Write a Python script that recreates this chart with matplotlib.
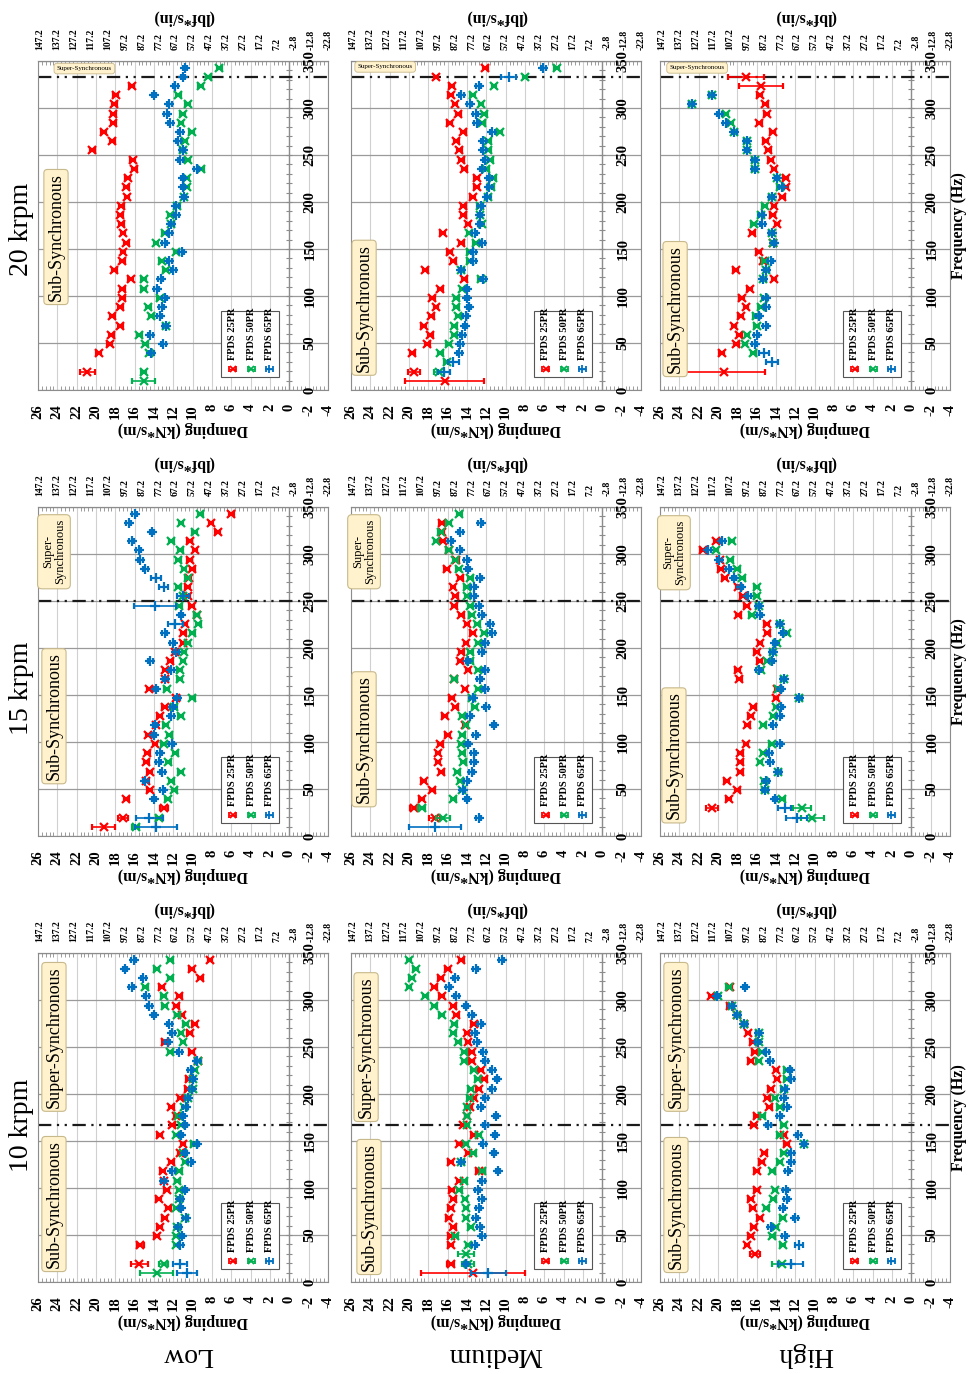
import matplotlib.pyplot as plt
from matplotlib.patches import FancyBboxPatch
from matplotlib.ticker import MultipleLocator

plt.rcParams["font.family"] = ["Liberation Serif", "DejaVu Serif"]

N = None

# FFT bin frequencies (Hz) shared by every series
FREQ = [9.8, 19.6, 29.4, 39.2, 49.0, 58.8, 68.6, 78.4, 88.2, 98.0,
        107.8, 117.6, 127.4, 137.2, 147.0, 156.8, 166.6, 176.4, 186.2, 196.0,
        205.8, 215.6, 225.4, 235.2, 245.0, 254.8, 264.6, 274.4, 284.2, 294.0,
        303.8, 313.6, 323.4, 333.2, 343.0]

# ---- 10 krpm ----
LOW_10_25 = [N, 15.5, N, 15.4, 13.7, 13.4, 12.9, 12.5, 13.5, 12.7,
             13.0, 13.1, 12.2, 11.3, 11.0, 13.4, 12.1, 11.7, 12.2, 11.3,
             10.5, 10.4, N, 9.4, 10.1, 12.9, 10.3, 9.8, 11.1, 11.7,
             11.4, 13.2, 9.2, 10.1, 8.2]
LOW_10_50 = [13.7, 13.0, N, 11.7, 11.7, 11.6, 10.8, 11.7, 11.4, 11.4,
             11.6, 11.4, 10.8, 11.0, 9.9, 11.7, 11.2, 11.5, 10.9, 10.5,
             10.0, 10.0, 9.8, 9.4, 12.3, 11.0, 11.2, 10.7, 11.6, 12.9,
             13.0, 14.9, 12.3, 13.7, 12.3]
LOW_10_65 = [10.6, 11.3, N, 11.3, 11.1, 11.5, 10.7, 11.2, 11.3, 10.8,
             13.0, 12.1, 10.2, 10.8, 9.6, 11.2, 10.8, 11.0, 10.7, 10.5,
             10.1, 10.0, 10.2, 9.5, 11.4, 12.6, 12.1, 12.4, 14.0, 14.5,
             14.8, 16.3, 15.1, 17.0, 16.1]

MED_10_25 = [13.35, 15.7, N, 15.7, 15.7, 15.4, 15.9, 15.7, 15.4, 15.6,
             14.8, 12.8, 15.7, 13.9, 14.8, 13.3, 14.4, 14.0, 13.7, 13.3,
             12.8, 12.2, 12.6, 13.5, 13.5, 13.9, 14.0, 13.3, 15.1, 15.4,
             16.6, 17.4, 16.7, 16.0, 14.6]
MED_10_50 = [N, 13.9, 14.1, 13.9, 15.2, 13.6, 14.1, 14.1, 14.2, 14.8,
             14.3, 12.4, 14.6, 13.35, 14.1, 12.8, 14.0, 14.0, 14.0, 13.7,
             13.6, 12.9, 13.3, 14.3, 14.3, 14.9, 15.4, 15.3, 16.6, 17.4,
             18.3, 20.0, 19.7, 19.3, 20.0]
MED_10_65 = [11.8, 14.1, N, 13.2, 12.4, 12.7, 13.1, 12.8, 12.5, 12.9,
             12.4, 10.8, 14.6, 11.2, 12.3, 11.1, 12.1, 11.0, 12.6, 12.1,
             11.4, 10.9, 11.4, 12.1, 12.3, 13.0, 13.2, 12.6, 13.5, 14.1,
             15.1, 15.9, 15.2, 13.1, 10.4]

HIGH_10_25 = [N, N, 16.2, 17.0, 16.6, 16.3, 15.7, 16.4, 16.6, 16.0,
              N, 16.0, 15.5, 15.2, 12.9, 13.2, 16.3, 16.0, 14.7, 14.9,
              14.55, 13.9, 14.0, 16.6, 16.2, 16.4, 16.9, 17.3, 18.0, 18.8,
              20.7, 18.8, N, N, N]
HIGH_10_50 = [N, 13.4, N, 13.3, 14.4, 14.0, 13.3, 15.0, 14.3, 14.1,
              N, 14.4, 13.6, 13.2, 11.1, 13.6, 13.2, 15.4, 13.6, 14.1,
              13.2, 12.9, 12.9, 15.8, 15.5, 15.8, 15.8, 17.3, 18.0, 18.6,
              20.0, 18.9, N, N, N]
HIGH_10_65 = [N, 12.5, N, 11.6, 13.1, 14.55, 12.0, 13.3, 12.9, 13.0,
              N, 12.8, 12.4, 12.4, 11.1, 11.7, 14.8, 13.6, 12.9, 13.2,
              13.1, 12.4, 12.55, 14.6, 15.0, 15.9, 15.8, 17.3, 18.0, 18.6,
              20.1, 17.2, N, N, N]

# ---- 15 krpm ----
LOW_15_25 = [19.2, 17.2, 13.0, 16.85, 14.45, 14.8, 14.45, 14.8, 14.7, 13.9,
             14.6, 13.8, 13.4, 12.9, 11.7, 14.5, 12.85, 12.85, 12.3, 11.8,
             11.0, 10.95, 10.8, 9.6, 10.1, 10.5, 10.5, 10.4, 10.05, 10.3,
             9.75, 10.3, 7.4, 8.1, 6.0]
LOW_15_50 = [15.9, 13.5, N, 12.6, 11.9, 12.2, 11.25, 12.5, 11.8, 13.0,
             12.4, 12.8, 11.25, 11.9, 10.05, 12.7, 11.35, 11.35, 11.0, 10.9,
             10.5, 10.05, 9.4, 9.6, 11.4, 11.0, 11.5, 10.5, 10.9, 11.5,
             11.3, 12.2, 9.8, 11.2, 9.2]
LOW_15_65 = [13.8, 14.5, N, 14.0, 13.1, 14.9, 13.15, 13.5, 13.4, 12.15,
             14.0, 13.9, 12.2, 12.05, 11.6, 13.8, 12.85, 12.2, 14.4, 11.7,
             12.05, 12.9, 11.8, 11.2, 13.9, 11.0, 13.0, 13.8, 14.9, 15.4,
             15.6, 16.3, 14.2, 16.6, 16.0]

MED_15_25 = [N, 17.35, 19.5, 18.7, 17.6, 18.5, 16.65, 17.0, 17.0, 16.75,
             16.0, 14.2, 16.3, 15.2, 15.6, 14.2, 15.3, 13.9, 14.7, 14.6,
             14.1, 13.4, 14.0, 14.6, 15.3, 15.2, 15.45, 14.7, 16.1, 15.1,
             15.9, 16.5, 16.6, 16.6, N]
MED_15_50 = [N, 16.5, 18.7, 15.4, 14.5, 14.7, 15.0, 14.4, 14.5, 14.6,
             14.5, 14.1, 14.5, 13.2, 13.5, 12.85, 15.3, 12.85, 13.65, 13.65,
             12.85, 12.2, 12.95, 13.5, 13.65, 14.0, 14.05, 13.65, 14.85, 15.2,
             15.9, 17.2, 16.7, 15.9, 14.8]
MED_15_65 = [17.35, 12.8, N, 14.0, 14.45, 14.05, 13.5, 13.3, 13.3, 13.9,
             13.1, 11.2, 13.7, 12.0, 13.4, 12.1, 12.7, 12.1, 13.9, 12.5,
             12.1, 11.4, 11.6, 12.5, 12.8, 13.3, 13.3, 12.7, 13.9, 14.05,
             14.75, 15.7, 14.7, 12.6, N]

HIGH_15_25 = [N, N, 20.6, 18.9, 18.0, 19.1, 17.7, 17.7, 17.7, 17.1,
              N, 16.95, 16.6, 16.35, 14.0, 13.9, 17.8, 17.95, 15.7, 16.0,
              15.65, 14.9, 14.95, 17.9, 17.05, 17.45, 17.9, 19.3, 19.7, 19.8,
              21.6, 20.2, N, N, N]
HIGH_15_50 = [N, 10.25, 11.3, 13.35, 15.15, 15.2, 13.75, 15.65, 15.3, 14.45,
              N, 15.3, 14.3, 14.0, 11.6, 13.8, 13.2, 15.55, 14.9, 14.35,
              13.9, 12.9, 13.6, 16.5, 15.8, 16.0, 16.0, 17.5, 18.0, 18.75,
              20.2, 18.6, N, N, N]
HIGH_15_65 = [N, 11.85, 13.1, 14.1, 15.1, 15.0, 13.75, 14.6, 14.7, 13.6,
              N, 14.3, 13.6, 13.5, 11.6, 13.5, 13.2, 15.8, 14.45, 14.35,
              14.1, 13.25, 13.6, 15.7, 15.8, 16.85, 17.65, 18.35, 18.9, 19.85,
              21.0, 19.55, N, N, N]

# ---- 20 krpm ----
LOW_20_25 = [N, 20.9, N, 19.7, 18.6, 18.4, 17.5, 18.3, 17.5, 17.3,
             17.3, 16.4, 18.1, 17.3, 17.2, 16.85, 17.2, 17.4, 17.5, 17.4,
             16.8, 16.85, 16.7, 16.05, 16.2, 20.4, 18.3, 19.2, 18.2, 18.2,
             18.1, 17.95, 16.3, N, N]
LOW_20_50 = [15.05, 15.05, N, 14.5, 14.9, 15.5, 12.8, 14.3, 14.6, 13.4,
             15.05, 15.05, 12.8, 13.2, 11.7, 13.8, 12.9, 12.2, 12.3, 11.6,
             10.9, 10.6, 10.6, 9.1, 10.5, 11.05, 10.8, 10.1, 11.2, 11.05,
             10.5, 11.5, 9.15, 8.4, 7.25]
LOW_20_65 = [N, N, N, 14.3, 13.05, 14.4, 12.8, 13.4, 13.2, 12.9,
             13.7, 13.3, 12.0, 12.4, 11.15, 12.9, 12.4, 12.2, 11.7, 11.7,
             10.9, 11.0, 11.0, 9.6, 11.3, 11.05, 11.5, 11.3, 12.3, 12.7,
             12.4, 14.0, 11.8, 11.0, 10.8]

MED_20_25 = [16.3, 19.5, N, 19.65, 18.1, 17.8, 18.5, 17.7, 17.2, 17.6,
             16.75, 14.3, 18.3, 15.4, 15.8, 14.6, 16.5, 13.9, 14.4, 14.4,
             13.4, 13.0, 13.0, 14.3, 14.6, 14.8, 15.1, 14.4, 15.8, 14.9,
             15.25, 15.7, 15.6, 17.2, 12.1]
MED_20_50 = [N, 16.9, 16.1, 16.75, 15.9, 15.3, 15.3, 14.9, 15.1, 15.1,
             14.5, 12.6, 14.6, 13.7, 13.7, 13.1, 13.8, 12.5, 12.65, 12.7,
             11.8, 11.5, 11.3, 12.0, 11.6, 11.8, 11.8, 10.6, 12.4, 12.2,
             12.55, 13.4, 11.2, 8.0, 4.7]
MED_20_65 = [N, 16.4, 15.4, 14.8, 14.7, 14.5, 14.2, 14.15, 13.8, 14.0,
             14.0, 12.3, 14.6, 13.35, 13.35, 12.4, 13.2, 12.65, 12.65, 12.6,
             11.9, 11.7, 11.7, 12.4, 12.1, 12.3, 12.3, 11.4, 13.0, 13.1,
             13.7, 14.6, 12.8, 9.7, 6.1]

HIGH_20_25 = [N, 19.4, N, 19.6, 18.1, 17.8, 18.35, 17.65, 17.1, 17.55,
              16.7, 14.2, 18.15, 15.3, 15.8, 14.3, 16.45, 13.9, 14.35, 14.2,
              13.35, 13.0, 13.0, 14.2, 14.55, 14.8, 15.05, 14.35, 15.75, 14.95,
              15.1, 15.7, 15.55, 17.1, N]
HIGH_20_50 = [N, N, N, 16.35, 17.2, 17.0, 16.0, 16.1, 15.6, 15.2,
              N, 15.3, 15.0, 15.15, N, 14.3, 14.45, 16.3, 15.6, 15.15,
              14.45, 13.6, 13.9, 16.2, 16.2, 17.0, 17.05, 18.3, 18.7, 19.2,
              22.7, 20.65, N, N, N]
HIGH_20_65 = [N, N, 14.4, 15.25, 16.2, 16.0, 15.05, 15.8, 15.0, 15.05,
              N, 15.3, 15.0, 14.55, N, 14.2, 14.45, 15.4, 15.5, N,
              14.45, 13.4, 13.9, 16.2, 16.2, 17.0, 17.05, 18.3, 19.2, 19.85,
              22.7, 20.65, N, N, N]

PANEL_SERIES = {
    ("Low", "10 krpm"): (LOW_10_25, LOW_10_50, LOW_10_65),
    ("Medium", "10 krpm"): (MED_10_25, MED_10_50, MED_10_65),
    ("High", "10 krpm"): (HIGH_10_25, HIGH_10_50, HIGH_10_65),
    ("Low", "15 krpm"): (LOW_15_25, LOW_15_50, LOW_15_65),
    ("Medium", "15 krpm"): (MED_15_25, MED_15_50, MED_15_65),
    ("High", "15 krpm"): (HIGH_15_25, HIGH_15_50, HIGH_15_65),
    ("Low", "20 krpm"): (LOW_20_25, LOW_20_50, LOW_20_65),
    ("Medium", "20 krpm"): (MED_20_25, MED_20_50, MED_20_65),
    ("High", "20 krpm"): (HIGH_20_25, HIGH_20_50, HIGH_20_65),
}

# error bar half-widths that are larger than the usual small one (bin number -> kN*s/m)
ERR_SMALL = 0.25
BIG_ERR = {
    ("Low", "10 krpm"): ({2: 0.9, 4: 0.4}, {1: 1.7, 2: 0.5}, {1: 1.0, 2: 0.7}),
    ("Medium", "10 krpm"): ({1: 5.4, 2: 0.4}, {2: 0.6, 3: 0.8}, {1: 1.8}),
    ("High", "10 krpm"): ({3: 0.5}, {2: 1.0}, {2: 1.3, 4: 0.4}),
    ("Low", "15 krpm"): ({1: 1.2, 2: 0.5, 3: 0.4}, {1: 0.4},
                         {1: 2.2, 2: 1.4, 23: 0.8, 25: 2.2, 26: 0.6, 27: 0.5, 28: 0.5}),
    ("Medium", "15 krpm"): ({2: 0.6, 3: 0.4}, {2: 0.7, 3: 0.4}, {1: 2.7}),
    ("High", "15 krpm"): ({3: 0.6}, {2: 1.2, 3: 0.9}, {2: 1.1, 3: 0.7}),
    ("Low", "20 krpm"): ({2: 0.8}, {1: 1.2}, {}),
    ("Medium", "20 krpm"): ({1: 4.1, 2: 0.6}, {2: 0.5}, {2: 0.6, 3: 0.6, 34: 0.8}),
    ("High", "20 krpm"): ({2: 4.3, 33: 2.3, 34: 1.9}, {}, {3: 0.6, 4: 0.5}),
}

LOADS = ["Low", "Medium", "High"]
SPEEDS = ["20 krpm", "15 krpm", "10 krpm"]
SYNC_FREQ = {"10 krpm": 166.7, "15 krpm": 250.0, "20 krpm": 333.3}
SERIES_NAMES = ["FPDS 25PR", "FPDS 50PR", "FPDS 65PR"]

DAMPING_TICKS = [26, 24, 22, 20, 18, 16, 14, 12, 10, 8, 6, 4, 2, 0, -2, -4]
FREQ_TICKS = [0, 50, 100, 150, 200, 250, 300, 350]
FREQ_MINOR = list(range(0, 351, 10))
LBF_TICKS = [147.2, 137.2, 127.2, 117.2, 107.2, 97.2, 87.2, 77.2, 67.2,
             57.2, 47.2, 37.2, 27.2, 17.2, 7.2, -2.8, -12.8, -22.8]
KN_PER_LBF = 0.175127

COLORS = ["#ff0000", "#00b050", "#0070c0"]
MARKERS = ["x", "x", "+"]
BOX_FACE = "#fff2cc"
BOX_EDGE = "#c8b98c"

# label box centres in axes fraction
SUB_POS = {
    ("Low", "10 krpm"): (0.055, 0.237), ("Medium", "10 krpm"): (0.062, 0.228),
    ("High", "10 krpm"): (0.055, 0.234), ("Low", "15 krpm"): (0.055, 0.364),
    ("Medium", "15 krpm"): (0.045, 0.294), ("High", "15 krpm"): (0.048, 0.245),
    ("Low", "20 krpm"): (0.062, 0.465), ("Medium", "20 krpm"): (0.045, 0.25),
    ("High", "20 krpm"): (0.052, 0.246),
}
SUPER_POS = {
    ("Low", "10 krpm"): (0.055, 0.745), ("Medium", "10 krpm"): (0.052, 0.714),
    ("High", "10 krpm"): (0.055, 0.745), ("Low", "15 krpm"): (0.055, 0.864),
    ("Medium", "15 krpm"): (0.045, 0.864), ("High", "15 krpm"): (0.048, 0.861),
    ("Low", "20 krpm"): (0.16, 0.977), ("Medium", "20 krpm"): (0.118, 0.982),
    ("High", "20 krpm"): (0.128, 0.979),
}

W, H = 969, 1374
PANEL_LEFT = {"Low": 38, "Medium": 351, "High": 660}
PANEL_TOP = {"20 krpm": 61, "15 krpm": 507, "10 krpm": 953}
PANEL_W, PANEL_H = 290, 329

fig = plt.figure(figsize=(W / 100, H / 100), dpi=100)
fig.patch.set_facecolor("white")

for speed in SPEEDS:
    for load in LOADS:
        left = PANEL_LEFT[load]
        top = PANEL_TOP[speed]
        ax = fig.add_axes([left / W, 1 - (top + PANEL_H) / H, PANEL_W / W, PANEL_H / H])
        ax.set_xlim(26, -4)
        ax.set_ylim(0, 350)
        ax.autoscale(False)

        ax.set_xticks(DAMPING_TICKS, labels=[str(t) for t in DAMPING_TICKS])
        ax.set_yticks(FREQ_TICKS)
        ax.xaxis.set_minor_locator(MultipleLocator(0.4))
        ax.tick_params(axis="x", which="major", length=0, pad=10,
                       labelsize=10.5, labelrotation=90)
        ax.tick_params(axis="x", which="minor", direction="in", length=3,
                       top=True, bottom=True, color="#8c8c8c")
        ax.tick_params(axis="y", which="both", left=False, right=False,
                       labelleft=False)
        for lbl in ax.get_xticklabels():
            lbl.set_fontweight("bold")
        ax.grid(axis="x", which="major", color="#d0d0d0", lw=0.8)
        ax.grid(axis="y", which="major", color="#9a9a9a", lw=0.9)
        ax.set_axisbelow(True)
        for sp in ax.spines.values():
            sp.set_color("#8c8c8c")
            sp.set_linewidth(0.8)

        ax.set_xlabel("Damping (kN*s/m)", rotation=180, fontsize=11.5,
                      fontweight="bold", labelpad=2)

        # frequency axis crosses at zero damping, labels sit just past it
        ax.axvline(0, color="#8c8c8c", lw=1.0, zorder=1)
        ax.plot([0] * len(FREQ_MINOR), FREQ_MINOR, ls="none", marker="_",
                ms=5, mew=0.8, color="#8c8c8c", zorder=1)
        for f in FREQ_TICKS:
            ax.text(-2.15, f, str(f), rotation=90, ha="center", va="center",
                    fontsize=10.5, fontweight="bold")

        # secondary damping scale in lbf*s/in
        sec = ax.secondary_xaxis("top", functions=(lambda d: d / KN_PER_LBF,
                                                   lambda l: l * KN_PER_LBF))
        sec.set_xticks(LBF_TICKS, labels=[f"{t:.1f}" for t in LBF_TICKS])
        sec.tick_params(length=0, pad=8, labelsize=7, labelrotation=90)
        for lbl in sec.get_xticklabels():
            lbl.set_fontweight("bold")
        sec.spines["top"].set_color("#8c8c8c")
        sec.set_xlabel("(lbf*s/in)", rotation=180, fontsize=11.5,
                       fontweight="bold", labelpad=5)

        ax.axhline(SYNC_FREQ[speed], color="#1a1a1a", lw=1.6,
                   ls=(0, (6, 2.5, 1, 2.5, 1, 2.5)), zorder=2)

        for i, vals in enumerate(PANEL_SERIES[(load, speed)]):
            errs = BIG_ERR[(load, speed)][i]
            fs, ds, es = [], [], []
            for k, v in enumerate(vals, start=1):
                if v is None:
                    continue
                fs.append(FREQ[k - 1])
                ds.append(v)
                es.append(errs.get(k, ERR_SMALL))
            ax.errorbar(ds, fs, xerr=es, fmt=MARKERS[i], color=COLORS[i],
                        ms=6 if MARKERS[i] == "x" else 7, mew=1.6,
                        elinewidth=1.2, capsize=2.5, capthick=1.2, zorder=3 + i)

        # Sub-/Super-Synchronous labels
        sx, sy = SUB_POS[(load, speed)]
        ax.text(sx, sy, "Sub-Synchronous", transform=ax.transAxes, rotation=90,
                ha="center", va="center", fontsize=13, zorder=7,
                bbox=dict(boxstyle="round,pad=0.2", fc=BOX_FACE, ec=BOX_EDGE, lw=0.8))
        px, py = SUPER_POS[(load, speed)]
        if speed == "10 krpm":
            ax.text(px, py, "Super-Synchronous", transform=ax.transAxes,
                    rotation=90, ha="center", va="center", fontsize=13, zorder=7,
                    bbox=dict(boxstyle="round,pad=0.2", fc=BOX_FACE, ec=BOX_EDGE, lw=0.8))
        elif speed == "15 krpm":
            ax.text(px, py, "Super-\nSynchronous", transform=ax.transAxes,
                    rotation=90, ha="center", va="center", fontsize=9,
                    linespacing=1.0, multialignment="center", zorder=7,
                    bbox=dict(boxstyle="round,pad=0.35", fc=BOX_FACE, ec=BOX_EDGE, lw=0.8))
        else:
            ax.text(px, py, "Super-Synchronous", transform=ax.transAxes,
                    rotation=0, ha="center", va="center", fontsize=5, zorder=7,
                    bbox=dict(boxstyle="round,pad=0.4", fc=BOX_FACE, ec=BOX_EDGE, lw=0.6))

        # legend, drawn by hand so it can be turned with the panel
        ax.add_patch(FancyBboxPatch((0.63, 0.04), 0.2, 0.2, boxstyle="square,pad=0",
                                    transform=ax.transAxes, fc="white",
                                    ec="#555555", lw=0.8, zorder=8))
        for i, name in enumerate(SERIES_NAMES):
            lx = 0.672 + i * 0.063
            ax.errorbar([lx], [0.065], xerr=[0.012], transform=ax.transAxes,
                        fmt=MARKERS[i], color=COLORS[i],
                        ms=5 if MARKERS[i] == "x" else 6, mew=1.3,
                        elinewidth=1.0, capsize=2, capthick=1.0, zorder=9)
            ax.text(lx, 0.092, name, transform=ax.transAxes, rotation=90,
                    ha="center", va="bottom", fontsize=7.5, fontweight="bold",
                    zorder=9)

        if load == "High":
            ax.text(1.03, 0.5, "Frequency (Hz)", transform=ax.transAxes,
                    rotation=90, ha="center", va="center", fontsize=11.5,
                    fontweight="bold")

# row and column headings
SPEED_Y = {"20 krpm": 229, "15 krpm": 688, "10 krpm": 1125}
for speed in SPEEDS:
    fig.text(22 / W, 1 - SPEED_Y[speed] / H, speed, rotation=90,
             ha="center", va="center", fontsize=20)

LOAD_X = {"Low": 188, "Medium": 495, "High": 805}
for load in LOADS:
    fig.text(LOAD_X[load] / W, 1 - 1355 / H, load, rotation=180,
             ha="center", va="center", fontsize=20)

fig.savefig("out.png", dpi=100)
